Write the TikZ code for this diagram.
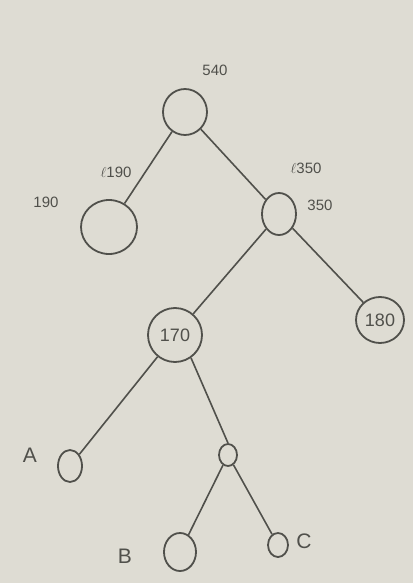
\documentclass[tikz,border=0pt]{standalone}
\usepackage{fontspec}
\setmainfont{Liberation Sans}
\usetikzlibrary{shapes.geometric}
\definecolor{paper}{RGB}{222,220,211}
\definecolor{pencil}{RGB}{80,80,75}
\begin{document}
\begin{tikzpicture}[x=1pt,y=-1pt,
  circ/.style={ellipse,draw=pencil,line width=1.8pt,inner sep=0pt,text=pencil,font=\fontsize{18}{18}\selectfont},
  edge/.style={draw=pencil,line width=1.6pt},
  lab/.style={text=pencil,font=\fontsize{15}{15}\selectfont,inner sep=0pt},
  big/.style={lab,font=\fontsize{21}{21}\selectfont}]
\fill[paper] (0,0) rectangle (413,583);
\useasboundingbox (0,0) rectangle (413,583);
% nodes
\node[circ,minimum width=44pt,minimum height=46pt] (root) at (185,112) {};
\node[circ,minimum width=56pt,minimum height=54pt] (left) at (109,227) {};
\node[circ,minimum width=34pt,minimum height=42pt] (right) at (279,214) {};
\node[circ,minimum width=54pt,minimum height=54pt] (n170) at (175,335) {170};
\node[circ,minimum width=48pt,minimum height=46pt] (n180) at (380,320) {180};
\node[circ,minimum width=24pt,minimum height=32pt] (a) at (70,466) {};
\node[circ,minimum width=18pt,minimum height=22pt] (s) at (228,455) {};
\node[circ,minimum width=32pt,minimum height=38pt] (b) at (180,552) {};
\node[circ,minimum width=20pt,minimum height=24pt] (c) at (278,545) {};
% labels
\node[lab] (t540) at (215,70) {540};
\node[lab] (tl190) at (116,172) {$\ell$190};
\node[lab] (t190) at (46,202) {190};
\node[lab] (tl350) at (306,168) {$\ell$350};
\node[lab] (t350) at (320,205) {350};
\node[big] (tA) at (30,455) {A};
\node[big] (tB) at (125,556) {B};
\node[big] (tC) at (304,541) {C};
% edges
\draw[edge] (root) -- (left);
\draw[edge] (root) -- (right);
\draw[edge] (right) -- (n170);
\draw[edge] (right) -- (n180);
\draw[edge] (n170) -- (a);
\draw[edge] (n170.-55) -- (s.north);
\draw[edge] (s) -- (b);
\draw[edge] (s) -- (c);
\end{tikzpicture}
\end{document}
